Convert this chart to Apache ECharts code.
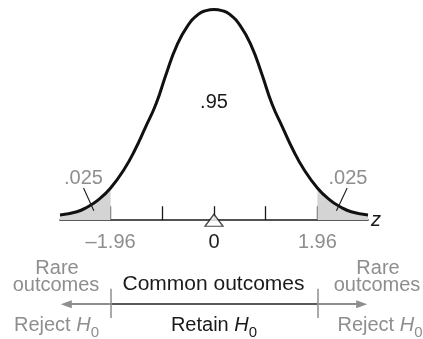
<!DOCTYPE html>
<html><head><meta charset="utf-8">
<script src="https://cdn.jsdelivr.net/npm/echarts@6/dist/echarts.min.js"></script>
<style>html,body{margin:0;padding:0;background:#fff}#c{width:423px;height:339px}</style>
</head><body><div id="c"></div>
<script>
// ---- data ----
const curveZ = [-2.92, -2.6, -2.4, -2.2, -1.96, -1.7, -1.5, -1.3, -1.1, -0.9, -0.7, -0.5, -0.3, -0.15, 0,
                0.15, 0.3, 0.5, 0.7, 0.9, 1.1, 1.3, 1.5, 1.7, 1.96, 2.2, 2.4, 2.6, 2.92];
const curveDensity = [0.010, 0.016, 0.025, 0.038, 0.061, 0.097, 0.133, 0.176, 0.220, 0.279, 0.332, 0.368, 0.390, 0.397, 0.399,
                      0.397, 0.390, 0.368, 0.332, 0.279, 0.220, 0.176, 0.133, 0.097, 0.061, 0.038, 0.025, 0.016, 0.010];
const criticalZ = [-1.96, 1.96];
const tickValues = [-1.96, -0.98, 0, 0.98, 1.96];
const labelValues = [-1.96, 0, 1.96];
const tickLabels = ['\u20131.96', '0', '1.96'];
const centralArea = '.95';
const tailArea = '.025';
const regionTexts = ['Rare', 'outcomes', 'Common outcomes'];
const decisionTexts = ['Reject', 'Retain'];

// ---- styles ----
const FONT = "'Liberation Sans', Arial, sans-serif";
const GREY = '#8e8e8e';
const BLACK = '#1a1a1a';
const SHADE = '#d4d4d4';
const ROW = 0.414;

const pts = curveZ.map((z, i) => [z, curveDensity[i]]);
const leftTail = pts.filter(p => p[0] <= criticalZ[0]);
const rightTail = pts.filter(p => p[0] >= criticalZ[1]);

const chart = echarts.init(document.getElementById('c'), null, {renderer: 'canvas'});

function txt(text, x, y, color, size) {
  return {type: 'text', silent: true, z: 50, style: {
    text: text, x: x, y: y, fill: color, font: size + 'px ' + FONT,
    align: 'center', verticalAlign: 'middle'
  }};
}
function hTxt(word, x, y, color) {
  return {type: 'text', silent: true, z: 50, style: {
    text: '{n|' + word + ' }{i|H}{s|0}', x: x, y: y, fill: color,
    align: 'center', verticalAlign: 'middle',
    rich: {
      n: {fontSize: 20, fontFamily: FONT, lineHeight: 30, verticalAlign: 'middle', fill: color},
      i: {fontSize: 20, fontFamily: FONT, fontStyle: 'italic', lineHeight: 30, verticalAlign: 'middle', fill: color},
      s: {fontSize: 15, fontFamily: FONT, lineHeight: 15, verticalAlign: 'bottom', fill: color}
    }
  }};
}

const option = {
  animation: false,
  backgroundColor: '#fff',
  grid: [
    {left: 60, right: 55, top: 9, bottom: 118.8, outerBoundsMode: 'none', containLabel: false},
    {left: 60, right: 55, top: 255, bottom: 0, outerBoundsMode: 'none', containLabel: false}
  ],
  xAxis: [{
    type: 'value', gridIndex: 0, min: -2.92, max: 2.92,
    name: 'z', nameLocation: 'end', nameGap: 3,
    nameTextStyle: {fontFamily: FONT, fontSize: 20, fontStyle: 'italic', color: BLACK, verticalAlign: 'middle', padding: [2, 0, 0, 0]},
    axisLine: {lineStyle: {color: BLACK, width: 1.6}},
    axisTick: {show: true, inside: true, length: 14, customValues: tickValues, lineStyle: {color: BLACK, width: 1.3}},
    axisLabel: {
      customValues: labelValues, margin: 12, fontFamily: FONT, fontSize: 20,
      formatter: function (v) {
        const i = labelValues.indexOf(v);
        return v === 0 ? '{k|' + tickLabels[i] + '}' : '{g|' + tickLabels[i] + '}';
      },
      rich: {k: {color: BLACK, fontSize: 20, fontFamily: FONT}, g: {color: GREY, fontSize: 20, fontFamily: FONT}}
    },
    splitLine: {show: false}
  }, {
    type: 'value', gridIndex: 1, min: -2.92, max: 2.92, show: false, splitLine: {show: false}
  }],
  yAxis: [
    {type: 'value', gridIndex: 0, min: 0, max: 0.4, show: false, splitLine: {show: false}},
    {type: 'value', gridIndex: 1, min: 0, max: 1, show: false, splitLine: {show: false}}
  ],
  series: [
    {type: 'line', data: leftTail, smooth: true, symbol: 'none', silent: true,
     lineStyle: {width: 0}, areaStyle: {color: SHADE, opacity: 1}, z: 1},
    {type: 'line', data: rightTail, smooth: true, symbol: 'none', silent: true,
     lineStyle: {width: 0}, areaStyle: {color: SHADE, opacity: 1}, z: 1},
    {type: 'line', data: pts, smooth: true, symbol: 'none', silent: true, z: 3,
     lineStyle: {color: '#111', width: 3},
     markLine: {
       silent: true, symbol: ['none', 'none'], label: {show: false}, emphasis: {disabled: true},
       data: [
         [{coord: [-2.474, 0.061], lineStyle: {color: BLACK, width: 1.1, type: 'solid'}}, {coord: [-2.278, 0.018]}],
         [{coord: [2.525, 0.061], lineStyle: {color: BLACK, width: 1.1, type: 'solid'}}, {coord: [2.322, 0.018]}]
       ]
     }},
    {type: 'scatter', data: [[0, 0]], symbol: 'triangle', symbolSize: [18, 12], silent: true, z: 10, clip: false,
     itemStyle: {color: '#fff', borderColor: BLACK, borderWidth: 1.3}},
    {type: 'line', xAxisIndex: 1, yAxisIndex: 1, data: [], silent: true,
     markLine: {
       silent: true, symbol: ['none', 'none'], label: {show: false}, emphasis: {disabled: true},
       data: [
         [{coord: [criticalZ[0], ROW], lineStyle: {color: '#222', width: 1.6, type: 'solid'}}, {coord: [criticalZ[1], ROW]}],
         [{coord: [criticalZ[0], ROW], symbol: 'none', lineStyle: {color: GREY, width: 2, type: 'solid'}},
          {coord: [-2.8, ROW], symbol: 'triangle', symbolSize: [8, 11]}],
         [{coord: [criticalZ[1], ROW], symbol: 'none', lineStyle: {color: GREY, width: 2, type: 'solid'}},
          {coord: [2.8, ROW], symbol: 'triangle', symbolSize: [8, 11]}],
         [{coord: [criticalZ[0], 0.598], lineStyle: {color: GREY, width: 1.5, type: 'solid'}}, {coord: [criticalZ[0], 0.251]}],
         [{coord: [criticalZ[1], 0.598], lineStyle: {color: GREY, width: 1.5, type: 'solid'}}, {coord: [criticalZ[1], 0.251]}]
       ]
     }}
  ],
  graphic: [
    txt(centralArea, 214, 102, BLACK, 20),
    txt(tailArea, 83.5, 178, GREY, 20),
    txt(tailArea, 348, 178, GREY, 20),
    txt(regionTexts[0], 57, 268, GREY, 20),
    txt(regionTexts[1], 56, 285, GREY, 20),
    txt(regionTexts[0], 378, 268, GREY, 20),
    txt(regionTexts[1], 377, 285, GREY, 20),
    txt(regionTexts[2], 213.5, 284.5, BLACK, 21),
    hTxt(decisionTexts[0], 56.5, 325.5, GREY),
    hTxt(decisionTexts[1], 214, 325.5, BLACK),
    hTxt(decisionTexts[0], 380, 325.5, GREY)
  ]
};
chart.setOption(option);
</script></body></html>
